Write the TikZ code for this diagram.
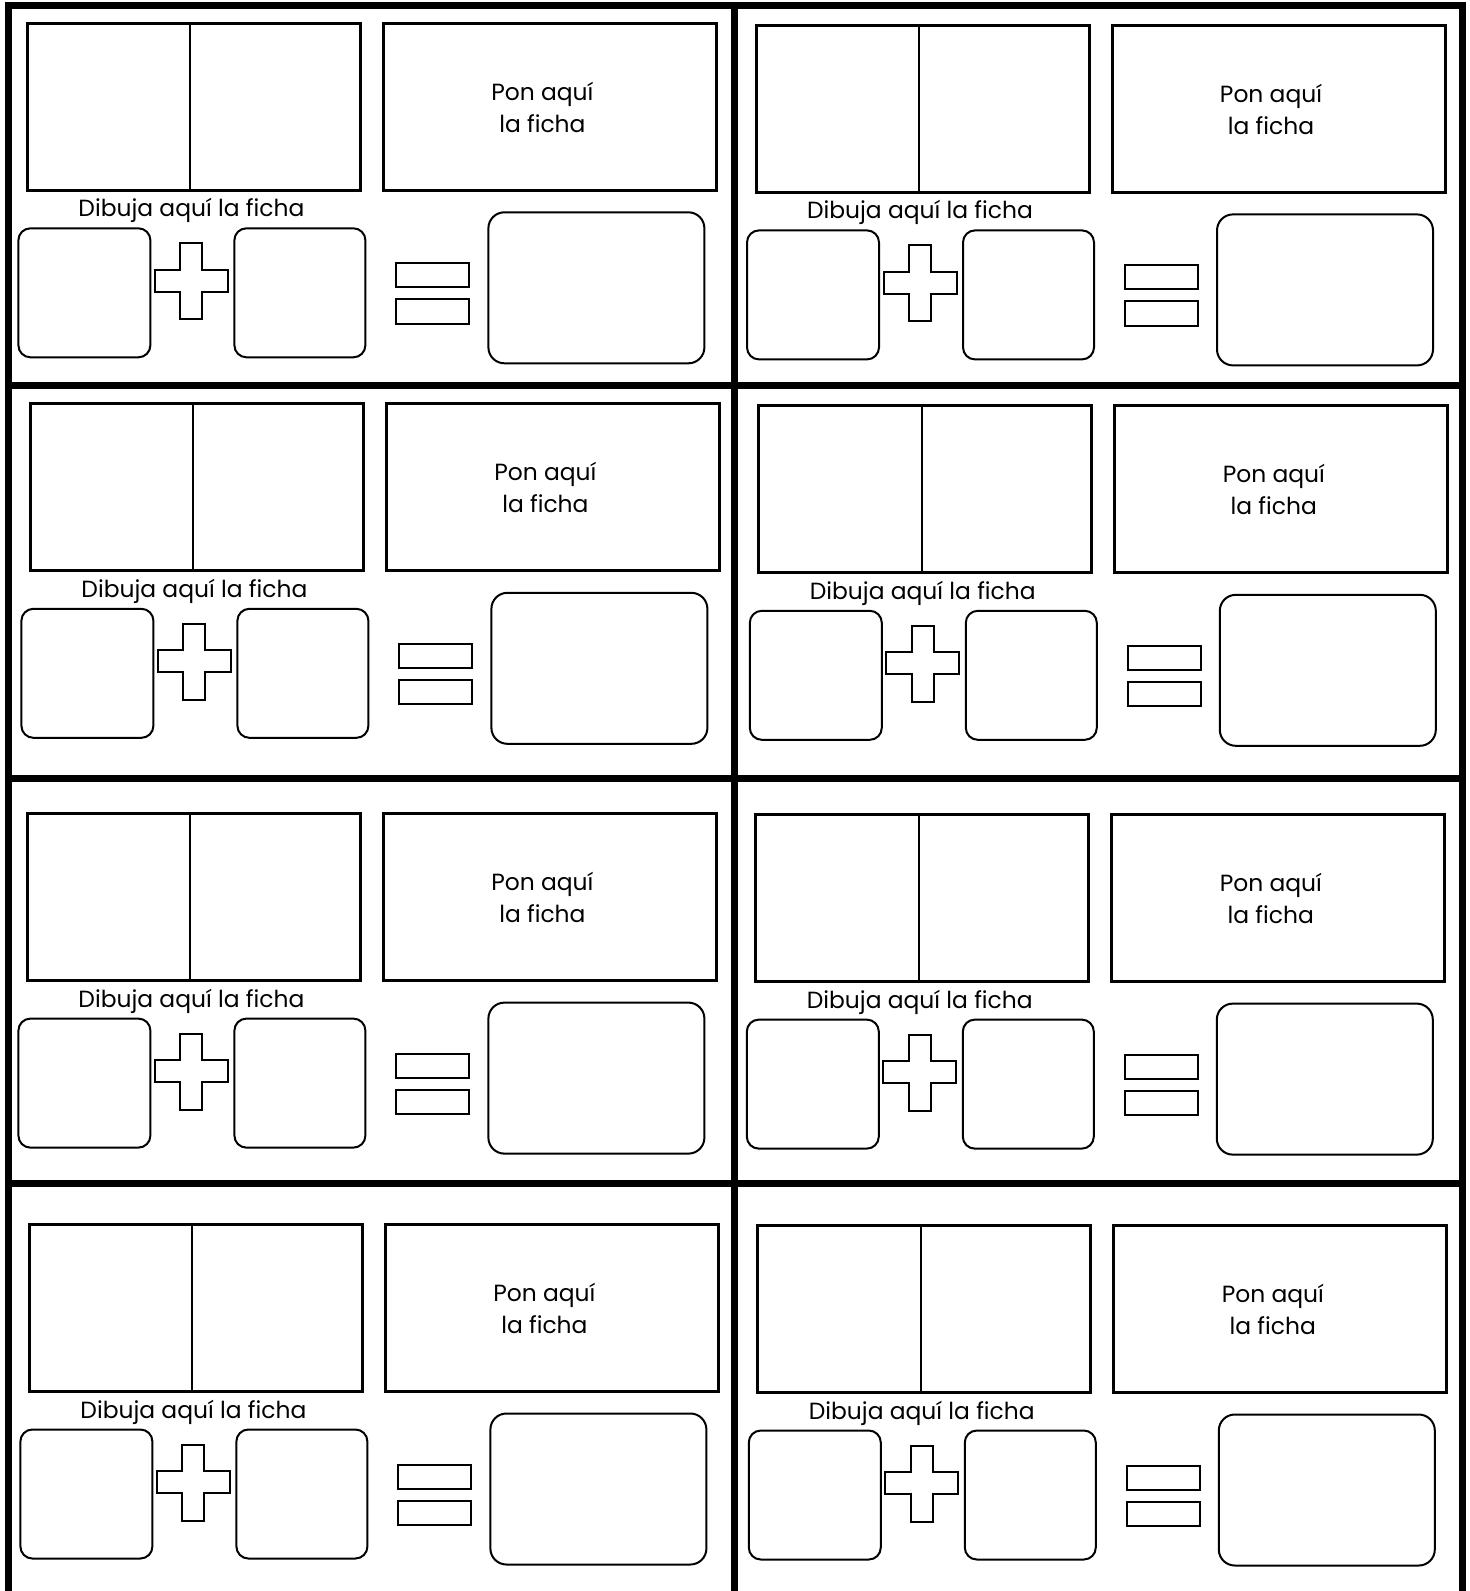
\documentclass[tikz,border=0pt]{standalone}
\usepackage{fontspec}
\setmainfont{Poppins}
\usepackage{tikz}
\usetikzlibrary{positioning}
\newcommand{\letra}{\fontsize{11.7}{16}\selectfont}
\tikzset{
  marco/.style  = {line width=3.5pt},
  caja/.style   = {line width=1.5pt},
  raya/.style   = {line width=1pt},
  hueco/.style  = {line width=1pt, rounded corners=6pt},
  grande/.style = {line width=1pt, rounded corners=8pt},
  signo/.style  = {line width=1pt},
  rotulo/.style = {font=\letra, align=center, inner sep=0pt},
  tarjeta/.pic  = {
    \draw[caja] (0,0) rectangle (333,167);
    \draw[raya] (163,0) -- (163,167);
    \draw[caja] (356,0) rectangle (689,167);
    \node[rotulo] (-pon) at (515,84) {Pon aquí\\la ficha};
    \node[rotulo, anchor=base] (-dibuja) at (164,193.5) {Dibuja aquí la ficha};
    \draw[hueco] (-9,205) rectangle (123,334);
    \draw[signo] (127.5,246.5) -- (153,246.5) -- (153,220) -- (175,220) -- (175,246.5)
      -- (200.5,246.5) -- (200.5,268.5) -- (175,268.5) -- (175,296) -- (153,296)
      -- (153,268.5) -- (127.5,268.5) -- cycle;
    \draw[hueco] (207,205) rectangle (338,334);
    \draw[signo] (369,240) rectangle (442,264);
    \draw[signo] (369,276) rectangle (442,300.5);
    \draw[grande] (461,189) rectangle (677,340);
  }
}

\begin{document}
\begin{tikzpicture}[x=0.5pt,y=-0.5pt]
  \useasboundingbox (0,0) rectangle (1470,1591);
  \draw[marco] (8.5,1600) -- (8.5,5.5) -- (1462,5.5) -- (1462,1600);
  \draw[marco] (734.5,5.5) -- (734.5,1600);
  \draw[marco] (8.5,385.5) -- (1462,385.5);
  \draw[marco] (8.5,778.5) -- (1462,778.5);
  \draw[marco] (8.5,1183.5) -- (1462,1183.5);

  \pic (a) at (27.4,23.3)   {tarjeta};
  \pic (b) at (756,25.4)    {tarjeta};
  \pic (c) at (30.4,403.8)  {tarjeta};
  \pic (d) at (758.8,405.8) {tarjeta};
  \pic (e) at (27.4,813.6)  {tarjeta};
  \pic (f) at (755.8,814.6) {tarjeta};
  \pic (g) at (29.4,1224.5) {tarjeta};
  \pic (h) at (757.8,1225.5){tarjeta};
\end{tikzpicture}
\end{document}
